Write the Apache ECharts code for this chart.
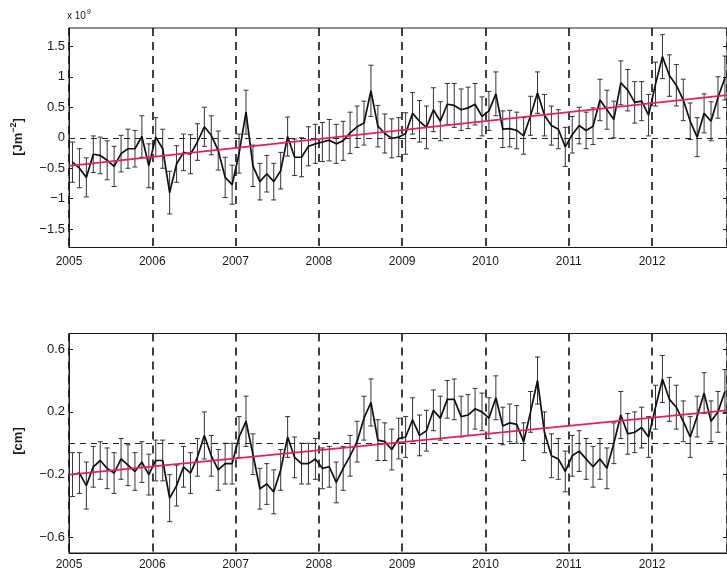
<!DOCTYPE html>
<html>
<head>
<meta charset="utf-8">
<script src="https://cdn.jsdelivr.net/npm/echarts@6/dist/echarts.min.js"></script>
<style>
  html, body { margin: 0; padding: 0; background: #fff; overflow: hidden; }
  #chart { width: 727px; height: 576px; }
</style>
</head>
<body>
<div id="chart"></div>
<script>
// monthly anomalies, Jan 2005 .. Nov 2012
const heatMean = [
  -0.40, -0.50, -0.65, -0.27, -0.29, -0.37, -0.47, -0.26, -0.18, -0.18, 0.02, -0.46,
  0.01, -0.18, -0.90, -0.43, -0.24, -0.27, -0.07, 0.18, 0.04, -0.21, -0.65, -0.77,
  -0.26, 0.42, -0.46, -0.72, -0.59, -0.72, -0.54, 0.02, -0.32, -0.32, -0.14, -0.10,
  -0.07, -0.04, -0.10, -0.05, 0.08, 0.18, 0.24, 0.77, 0.19, 0.07, -0.01, 0.01,
  0.07, 0.40, 0.27, 0.17, 0.46, 0.27, 0.55, 0.53, 0.46, 0.49, 0.55, 0.35,
  0.44, 0.72, 0.14, 0.15, 0.12, 0.03, 0.36, 0.74, 0.37, 0.20, 0.14, -0.15,
  0.05, 0.20, 0.12, 0.19, 0.62, 0.46, 0.30, 0.90, 0.78, 0.58, 0.60, 0.37,
  0.88, 1.33, 1.02, 0.86, 0.62, 0.27, 0.01, 0.40, 0.27, 0.66, 0.98
];
const heatErr = [
  0.33, 0.32, 0.32, 0.30, 0.30, 0.32, 0.33, 0.30, 0.32, 0.30, 0.34, 0.36,
  0.32, 0.32, 0.35, 0.30, 0.30, 0.32, 0.30, 0.32, 0.32, 0.32, 0.33, 0.32,
  0.32, 0.36, 0.34, 0.30, 0.30, 0.30, 0.30, 0.32, 0.30, 0.32, 0.32, 0.32,
  0.32, 0.34, 0.32, 0.32, 0.34, 0.34, 0.36, 0.42, 0.34, 0.32, 0.32, 0.32,
  0.34, 0.34, 0.34, 0.35, 0.36, 0.32, 0.34, 0.36, 0.34, 0.34, 0.34, 0.32,
  0.32, 0.36, 0.30, 0.30, 0.30, 0.30, 0.32, 0.34, 0.34, 0.32, 0.32, 0.32,
  0.30, 0.30, 0.30, 0.30, 0.34, 0.32, 0.30, 0.36, 0.34, 0.34, 0.32, 0.34,
  0.36, 0.36, 0.34, 0.34, 0.34, 0.30, 0.32, 0.32, 0.32, 0.34, 0.36
];
const seaMean = [
  -0.20, -0.19, -0.27, -0.15, -0.11, -0.16, -0.19, -0.10, -0.14, -0.18, -0.12, -0.20,
  -0.11, -0.11, -0.35, -0.27, -0.15, -0.19, -0.09, 0.05, -0.08, -0.17, -0.13, -0.13,
  0.04, 0.14, -0.07, -0.29, -0.26, -0.31, -0.17, 0.04, -0.09, -0.13, -0.13, -0.10,
  -0.16, -0.15, -0.25, -0.16, -0.08, 0.01, 0.16, 0.26, 0.02, 0.01, -0.04, 0.03,
  0.04, 0.15, 0.05, 0.08, 0.21, 0.16, 0.28, 0.28, 0.17, 0.18, 0.22, 0.20,
  0.16, 0.29, 0.11, 0.13, 0.12, 0.01, 0.20, 0.40, 0.07, -0.08, -0.10, -0.18,
  -0.08, -0.05, -0.10, -0.15, -0.10, -0.16, 0.00, 0.18, 0.06, 0.07, 0.10, 0.04,
  0.23, 0.41, 0.28, 0.23, 0.14, 0.04, 0.17, 0.32, 0.14, 0.20, 0.33
];
const seaErr = [
  0.14, 0.13, 0.15, 0.13, 0.12, 0.13, 0.13, 0.13, 0.13, 0.12, 0.13, 0.13,
  0.13, 0.13, 0.15, 0.13, 0.13, 0.13, 0.12, 0.15, 0.13, 0.13, 0.13, 0.13,
  0.13, 0.16, 0.13, 0.13, 0.13, 0.14, 0.13, 0.13, 0.13, 0.13, 0.13, 0.13,
  0.13, 0.13, 0.13, 0.14, 0.13, 0.13, 0.14, 0.15, 0.13, 0.12, 0.13, 0.13,
  0.13, 0.14, 0.13, 0.13, 0.13, 0.14, 0.12, 0.13, 0.13, 0.13, 0.13, 0.12,
  0.13, 0.14, 0.12, 0.12, 0.12, 0.12, 0.13, 0.15, 0.13, 0.14, 0.13, 0.13,
  0.13, 0.13, 0.13, 0.13, 0.13, 0.13, 0.13, 0.15, 0.13, 0.13, 0.13, 0.13,
  0.14, 0.15, 0.14, 0.14, 0.13, 0.13, 0.13, 0.13, 0.13, 0.13, 0.14
];
// linear trend end points
const trendYears = [2005, 2012.9];
const heatTrend = [-0.46, 0.70];
const seaTrend = [-0.20, 0.21];

const yearTicks = [2005, 2006, 2007, 2008, 2009, 2010, 2011, 2012];
const heatTicks = [-1.5, -1, -0.5, 0, 0.5, 1, 1.5];
const seaTicks = [-0.6, -0.2, 0.2, 0.6];

const months = heatMean.map((_, i) => 2005 + (i + 0.5) / 12);

const fontFam = '"Liberation Sans", Arial, sans-serif';
const ink = '#1a1a1a';

function fmt(v) {
    return String(v).replace('-', '\u2212');
}

function xAx(gridIndex, margin) {
    return {
        type: 'value', gridIndex, min: 2005, max: 2012.9, interval: 1,
        axisLine: {show: true, onZero: false, lineStyle: {color: ink, width: 1}},
        axisTick: {show: false},
        axisLabel: {color: ink, fontSize: 12, fontFamily: fontFam, margin, showMaxLabel: false,
            formatter: v => yearTicks.includes(v) ? String(v) : ''},
        splitLine: {show: true, lineStyle: {color: '#111', width: 1.6, type: [8, 6]}}
    };
}

function yAx(gridIndex, lim, ticks, right) {
    return {
        type: 'value', gridIndex, min: -lim, max: lim,
        position: right ? 'right' : 'left',
        axisLine: {show: !right, onZero: false, lineStyle: {color: ink, width: 1}},
        axisTick: {show: true, inside: true, length: 4, customValues: ticks, lineStyle: {color: ink}},
        axisLabel: {show: !right, customValues: ticks, color: ink, fontSize: 13, fontFamily: fontFam,
            margin: 4, formatter: fmt},
        splitLine: {show: false}
    };
}

function errBars(data, errs, xi, yi) {
    return {
        type: 'custom', xAxisIndex: xi, yAxisIndex: yi, z: 3,
        data: data.map((v, i) => [months[i], v - errs[i], v + errs[i]]),
        renderItem: (params, api) => {
            const lo = api.coord([api.value(0), api.value(1)]);
            const hi = api.coord([api.value(0), api.value(2)]);
            const w = 2.5;
            const st = {stroke: '#333', lineWidth: 1};
            return {
                type: 'group',
                children: [
                    {type: 'line', shape: {x1: lo[0], y1: lo[1], x2: hi[0], y2: hi[1]}, style: st},
                    {type: 'line', shape: {x1: lo[0] - w, y1: lo[1], x2: lo[0] + w, y2: lo[1]}, style: st},
                    {type: 'line', shape: {x1: hi[0] - w, y1: hi[1], x2: hi[0] + w, y2: hi[1]}, style: st}
                ]
            };
        }
    };
}

function meanLine(data, xi, yi) {
    return {
        type: 'line', xAxisIndex: xi, yAxisIndex: yi, z: 4, symbol: 'none',
        data: data.map((v, i) => [months[i], v]),
        lineStyle: {color: '#111', width: 1.7},
        markLine: {
            silent: true, symbol: 'none', label: {show: false},
            lineStyle: {color: '#222', width: 1, type: [6, 5]},
            data: [{yAxis: 0}]
        }
    };
}

function trendLine(vals, xi, yi) {
    return {
        type: 'line', xAxisIndex: xi, yAxisIndex: yi, z: 5, symbol: 'none',
        data: trendYears.map((x, i) => [x, vals[i]]),
        lineStyle: {color: '#e3225a', width: 1.8}
    };
}

const chart = echarts.init(document.getElementById('chart'), null, {renderer: 'canvas'});
chart.setOption({
    backgroundColor: '#fff',
    animation: false,
    grid: [
        {left: 69, top: 28, width: 659, height: 219.5, show: true, borderColor: ink, borderWidth: 1, backgroundColor: 'transparent'},
        {left: 69, top: 333.5, width: 659, height: 219.5, show: true, borderColor: ink, borderWidth: 1, backgroundColor: 'transparent'}
    ],
    xAxis: [xAx(0, 8), xAx(1, 6)],
    yAxis: [
        yAx(0, 1.8, heatTicks, false),
        yAx(1, 0.7, seaTicks, false),
        yAx(0, 1.8, heatTicks, true),
        yAx(1, 0.7, seaTicks, true)
    ],
    graphic: [
        {
            type: 'text', left: 67, top: 9,
            style: {
                text: '{a|x 10}{s|9}',
                rich: {
                    a: {fontSize: 10, fontFamily: fontFam, fill: ink},
                    s: {fontSize: 7, fontFamily: fontFam, fill: ink, padding: [0, 0, 7, 1]}
                }
            }
        },
        {
            type: 'text', x: 18, y: 137, rotation: Math.PI / 2,
            style: {
                text: '{a|[Jm}{s|\u22122}{a|]}',
                align: 'center', verticalAlign: 'middle',
                rich: {
                    a: {fontSize: 13, fontWeight: 'bold', fontFamily: fontFam, fill: ink},
                    s: {fontSize: 9, fontWeight: 'bold', fontFamily: fontFam, fill: ink, padding: [0, 0, 8, 0]}
                }
            }
        },
        {
            type: 'text', x: 18, y: 441, rotation: Math.PI / 2,
            style: {
                text: '[cm]', align: 'center', verticalAlign: 'middle',
                font: 'bold 13px "Liberation Sans", Arial, sans-serif', fill: ink
            }
        }
    ],
    series: [
        errBars(heatMean, heatErr, 0, 0),
        meanLine(heatMean, 0, 0),
        trendLine(heatTrend, 0, 0),
        errBars(seaMean, seaErr, 1, 1),
        meanLine(seaMean, 1, 1),
        trendLine(seaTrend, 1, 1)
    ]
});
</script>
</body>
</html>
